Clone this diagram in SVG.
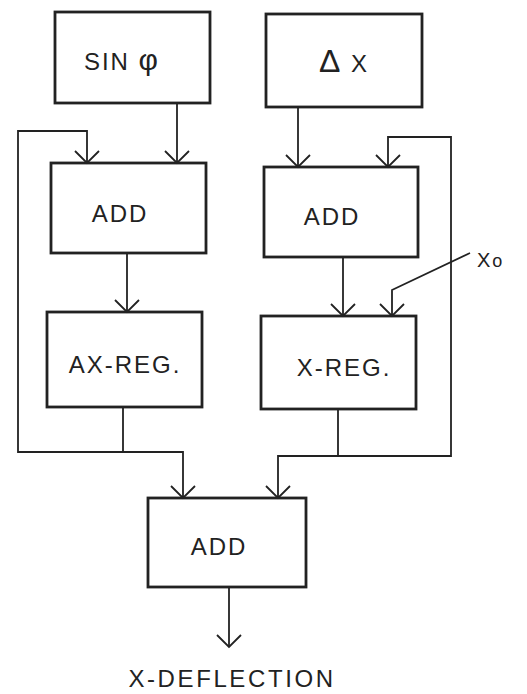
<svg xmlns="http://www.w3.org/2000/svg" width="527" height="694" viewBox="0 0 527 694">
<defs>
<style>
.box{fill:none;stroke:#222;stroke-width:2.8}
.ln{fill:none;stroke:#222;stroke-width:1.8}
.t{font-family:"Liberation Sans",Arial,sans-serif;font-size:24px;fill:#222;text-anchor:middle;letter-spacing:2px}
</style>
<marker id="ah" viewBox="-14 -14 16 28" markerWidth="16" markerHeight="28" refX="0" refY="0" orient="auto" markerUnits="userSpaceOnUse">
<path d="M-12,-12 L0,0 L-12,12" fill="none" stroke="#222" stroke-width="1.8"/>
</marker>
</defs>
<rect width="527" height="694" fill="#fff"/>
<g id="connectors">
<path class="ln" d="M177,103 V163" marker-end="url(#ah)"/>
<path class="ln" d="M298,107 V167" marker-end="url(#ah)"/>
<path class="ln" d="M183,452 H18 V131 H87 V163" marker-end="url(#ah)"/>
<path class="ln" d="M278,456 H451 V137 H388 V167" marker-end="url(#ah)"/>
<path class="ln" d="M127,253 V312" marker-end="url(#ah)"/>
<path class="ln" d="M343,257 V316" marker-end="url(#ah)"/>
<path class="ln" d="M470,253 L392,290 V316" marker-end="url(#ah)"/>
<path class="ln" d="M123,407 V452 H183 V498" marker-end="url(#ah)"/>
<path class="ln" d="M338,409 V456 H278 V498" marker-end="url(#ah)"/>
<path class="ln" d="M229,587 V647" marker-end="url(#ah)"/>
</g>
<g id="sin">
<rect class="box" x="55" y="12" width="155" height="91"/>
<text class="t" x="122" y="70">SIN  <tspan font-size="30">φ</tspan></text>
</g>
<g id="dx">
<rect class="box" x="266" y="14" width="156" height="93"/>
<text class="t" x="344" y="72"><tspan font-size="32">Δ</tspan> X</text>
</g>
<g id="add1">
<rect class="box" x="51" y="163" width="155" height="90"/>
<text class="t" x="120" y="222">ADD</text>
</g>
<g id="add2">
<rect class="box" x="264" y="167" width="154" height="90"/>
<text class="t" x="332" y="225">ADD</text>
</g>
<g id="axreg">
<rect class="box" x="47" y="312" width="155" height="95"/>
<text class="t" x="125" y="373">AX-REG.</text>
</g>
<g id="xreg">
<rect class="box" x="261" y="316" width="155" height="93"/>
<text class="t" x="344" y="376">X-REG.</text>
</g>
<g id="add3">
<rect class="box" x="148" y="498" width="158" height="89"/>
<text class="t" x="219" y="555">ADD</text>
</g>
<g id="x0">
<text class="t" x="477" y="267" style="text-anchor:start;font-size:20px">X<tspan font-size="18">o</tspan></text>
</g>
<g id="out">
<text class="t" x="232" y="687" style="font-size:24px;letter-spacing:2.6px">X-DEFLECTION</text>
</g>
</svg>
